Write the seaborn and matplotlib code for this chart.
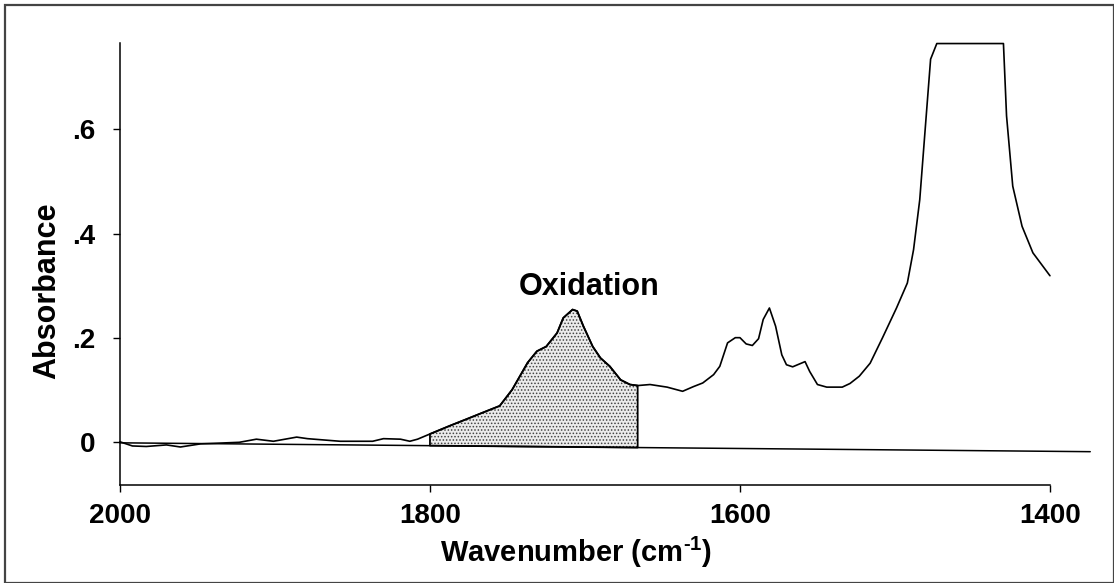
import numpy as np
import pandas as pd
import matplotlib.pyplot as plt
import matplotlib.patches as patches
import seaborn as sns


# IR spectrum (wavenumber in cm-1, absorbance)
wavenumber = [2000, 1992, 1983, 1970, 1961, 1948, 1923, 1912, 1901, 1886,
              1879, 1858, 1837, 1830, 1819, 1813, 1808, 1800, 1787, 1776,
              1766, 1755, 1747, 1737, 1731, 1725, 1718, 1714, 1708, 1705,
              1701, 1695, 1690, 1684, 1677, 1671, 1666, 1658, 1647, 1637,
              1630, 1624, 1617, 1613, 1608, 1603, 1600, 1596, 1592, 1588,
              1585, 1581, 1577, 1573, 1570, 1566, 1558, 1555, 1550, 1544,
              1534, 1529, 1523, 1516, 1508, 1499, 1492, 1488, 1484, 1481,
              1477, 1473, 1430, 1428, 1424, 1418, 1411, 1405, 1400]
absorbance = [0.000, -0.008, -0.009, -0.006, -0.010, -0.004, -0.001, 0.005, 0.001, 0.009,
              0.006, 0.001, 0.001, 0.006, 0.005, 0.001, 0.005, 0.015, 0.031, 0.044,
              0.056, 0.069, 0.100, 0.152, 0.174, 0.183, 0.209, 0.238, 0.254, 0.251,
              0.222, 0.183, 0.161, 0.145, 0.119, 0.110, 0.108, 0.110, 0.105, 0.097,
              0.106, 0.113, 0.129, 0.145, 0.190, 0.200, 0.200, 0.188, 0.185, 0.198,
              0.235, 0.257, 0.222, 0.167, 0.148, 0.144, 0.154, 0.135, 0.110, 0.105,
              0.105, 0.112, 0.126, 0.151, 0.200, 0.257, 0.305, 0.369, 0.465, 0.581,
              0.735, 0.765, 0.765, 0.626, 0.491, 0.414, 0.363, 0.339, 0.319]

# sloping baseline drawn under the spectrum
baseline_wn = [2000, 1374]
baseline_abs = [-0.002, -0.019]

# integrated carbonyl (oxidation) band
band_start, band_end = 1800, 1666

x_ticks = [2000, 1800, 1600, 1400]
x_tick_labels = ['2000', '1800', '1600', '1400']
y_ticks = [0, 0.2, 0.4, 0.6]
y_tick_labels = ['0', '.2', '.4', '.6']

sns.set_theme(style='ticks')
plt.rcParams['font.family'] = ['Liberation Sans', 'DejaVu Sans']
plt.rcParams['font.weight'] = 'bold'
plt.rcParams['text.color'] = 'black'
plt.rcParams['axes.labelcolor'] = 'black'
plt.rcParams['mathtext.fontset'] = 'custom'
plt.rcParams['mathtext.rm'] = 'Liberation Sans:bold'
plt.rcParams['mathtext.bf'] = 'Liberation Sans:bold'
plt.rcParams['mathtext.default'] = 'bf'
plt.rcParams['hatch.linewidth'] = 0.7

spec = pd.DataFrame({'wavenumber': wavenumber, 'absorbance': absorbance})
base = pd.DataFrame({'wavenumber': baseline_wn, 'absorbance': baseline_abs})

fig = plt.figure(figsize=(11.14, 5.83), dpi=100)
ax = fig.add_axes([0.1077, 0.1681, 0.8348, 0.7581])

# --- shaded oxidation band ---
band = spec[(spec['wavenumber'] <= band_start) & (spec['wavenumber'] >= band_end)]
band_base = np.interp(band['wavenumber'][::-1], baseline_wn[::-1], baseline_abs[::-1])[::-1]
ax.fill_between(band['wavenumber'], band_base, band['absorbance'],
                facecolor='#ececec', edgecolor='#444444', hatch='.....',
                linewidth=0, zorder=1)
ax.fill_between(band['wavenumber'], band_base, band['absorbance'],
                facecolor='none', edgecolor='black', linewidth=1.3, zorder=2)

# --- spectrum and baseline ---
sns.lineplot(data=base, x='wavenumber', y='absorbance', ax=ax, color='black',
             linewidth=1.1, estimator=None, sort=False, clip_on=False, zorder=3)
sns.lineplot(data=spec, x='wavenumber', y='absorbance', ax=ax, color='black',
             linewidth=1.2, estimator=None, sort=False, clip_on=False, zorder=4)

ax.text(1697, 0.282, 'Oxidation', ha='center', va='baseline',
        fontsize=22, fontweight='bold', color='black')

ax.set_xlim(2000, 1400)
ax.set_ylim(-0.083, 0.766)
ax.set_xticks(x_ticks)
ax.set_xticklabels(x_tick_labels)
ax.set_yticks(y_ticks)
ax.set_yticklabels(y_tick_labels)
ax.tick_params(axis='x', length=4.7, width=1, pad=8, labelsize=20, colors='black')
ax.tick_params(axis='y', length=5, width=1, pad=13, labelsize=20, colors='black')

ax.set_xlabel(r'Wavenumber (cm$^{\text{-}1}$)', fontsize=21, fontweight='bold')
ax.set_ylabel('Absorbance', fontsize=22, fontweight='bold')
ax.xaxis.set_label_coords(0.49, -0.152)
ax.xaxis.label.set_va('center')
ax.yaxis.set_label_coords(-0.078, 0.44)
ax.yaxis.label.set_va('center')

sns.despine(ax=ax)
for side in ['left', 'bottom']:
    ax.spines[side].set_linewidth(1.1)
    ax.spines[side].set_color('black')
ax.grid(False)

# frame around the whole figure
fig.patches.append(patches.Rectangle((5 / 1114, 0), 1 - 5 / 1114, 1 - 5 / 583,
                                     transform=fig.transFigure, fill=False,
                                     edgecolor='#444444', linewidth=1.6))

fig.savefig('out.png', dpi=100)
